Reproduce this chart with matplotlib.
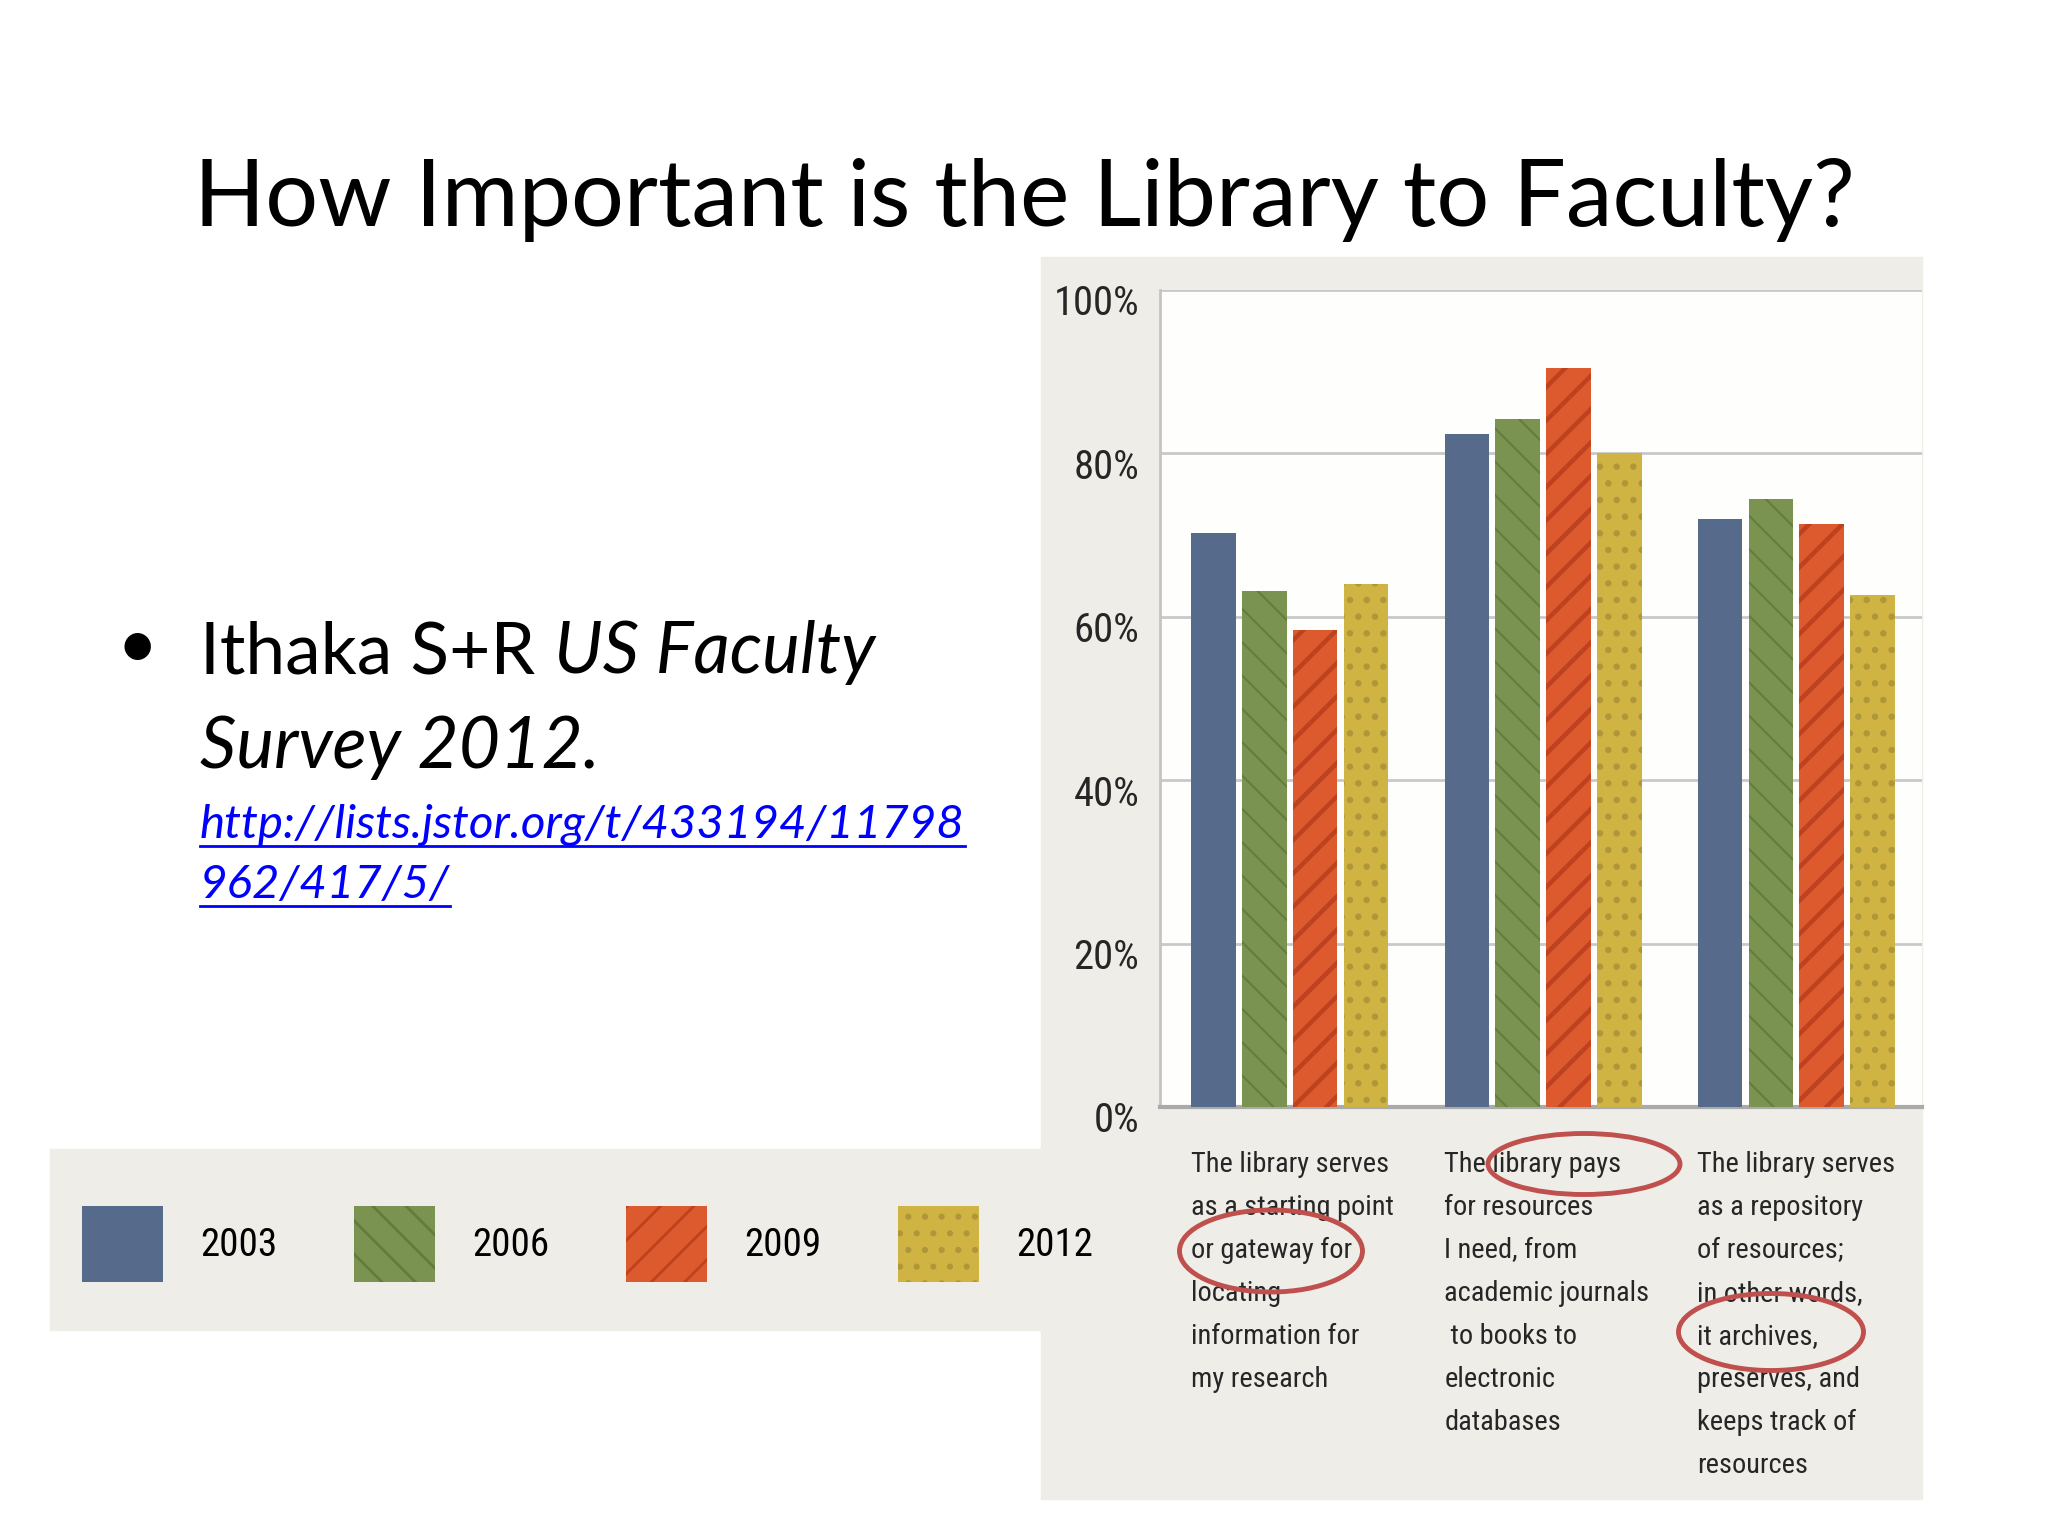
import matplotlib
matplotlib.use('Agg')
import numpy as np
import matplotlib.pyplot as plt
from matplotlib import font_manager
from matplotlib.patches import Rectangle, Ellipse
from matplotlib.lines import Line2D
import matplotlib.transforms as mtransforms

# values
categories = [
    "The library serves\nas a starting point\nor gateway for\nlocating\ninformation for\nmy research",
    "The library pays\nfor resources\nI need, from\nacademic journals\n to books to\nelectronic\ndatabases",
    "The library serves\nas a repository\nof resources;\nin other words,\nit archives,\npreserves, and\nkeeps track of\nresources",
]
years = ['2003', '2006', '2009', '2012']
pct_2003 = [70.2, 82.4, 72.0]
pct_2006 = [63.2, 84.2, 74.4]
pct_2009 = [58.4, 90.4, 71.4]
pct_2012 = [64.0, 80.0, 62.7]
y_ticks = [0, 20, 40, 60, 80, 100]

title = 'How Important is the Library to Faculty?'
source_plain = 'Ithaka S+R'
source_italic = 'US Faculty'
source_line2 = 'Survey 2012.'
url_lines = ['http://lists.jstor.org/t/433194/11798', '962/417/5/']

fills = ['#566A8B', '#7A9350', '#DC5A2E', '#D0B443']
hatch_cols = ['#566A8B', '#617C3C', '#BE421F', '#AE963A']
hatches = ['', '\\', '/', '.']
hatch_lw = [1.0, 1.4, 3.2, 2.2]
panel = '#EEEDE8'
txt = '#262626'

W, H = 2048, 1536
plt.rcParams['hatch.linewidth'] = 2.0
fig = plt.figure(figsize=(W / 100, H / 100), dpi=100)
fig.patch.set_facecolor('white')
renderer = fig.canvas.get_renderer()


def fx(px):
    return px / W


def fy(py):
    return 1 - py / H


def has_font(name):
    try:
        font_manager.findfont(name, fallback_to_default=False)
        return True
    except ValueError:
        return False


SLIDE = 'Lato' if has_font('Lato') else 'DejaVu Sans'
NARROW = 'DejaVu Sans'
for cand in ['Liberation Sans Narrow', 'Roboto Condensed', 'Open Sans Condensed', 'Liberation Sans']:
    if has_font(cand):
        NARROW = cand
        break


def fit(s, target, **kw):
    # font size that makes string s about target pixels wide
    t = fig.text(0, 0, s, fontsize=50, **kw)
    w = t.get_window_extent(renderer).width
    t.remove()
    return 50 * target / w


# grey panels behind chart and legend
fig.add_artist(Rectangle((fx(1041), fy(1499)), (1922 - 1041) / W, (1499 - 257) / H,
                         transform=fig.transFigure, color=panel, zorder=-2))
fig.add_artist(Rectangle((fx(50), fy(1330)), (1041 - 50) / W, (1330 - 1149) / H,
                         transform=fig.transFigure, color=panel, zorder=-2))

# slide title
fs_title = fit(title, 1662, family=SLIDE)
fig.text(fx(1024), fy(226), title, ha='center', va='baseline', fontsize=fs_title,
         family=SLIDE, color='black')

# bullet text
fs_src = fit(source_plain + ' ' + source_italic, 691, family=SLIDE)
fig.text(fx(137), fy(648), '\u2022', ha='center', va='center', fontsize=fs_src, family=SLIDE)
t1 = fig.text(fx(200), fy(673), source_plain, va='baseline', fontsize=fs_src, family=SLIDE)
x1 = t1.get_window_extent(renderer).x1 + 0.26 * fs_src * 100 / 72
fig.text(x1 / W, fy(673), source_italic, va='baseline', fontsize=fs_src, family=SLIDE,
         style='italic')
fig.text(fx(200), fy(768), source_line2, va='baseline', fontsize=fs_src, family=SLIDE,
         style='italic')

fs_url = fit(url_lines[0], 764, family=SLIDE, style='italic')
for line, base in zip(url_lines, [838, 898]):
    t = fig.text(fx(200), fy(base), line, va='baseline', fontsize=fs_url, family=SLIDE,
                 style='italic', color='#0000FF')
    bb = t.get_window_extent(renderer)
    fig.add_artist(Line2D([bb.x0 / W, bb.x1 / W], [fy(base + 8)] * 2, color='#0000FF',
                          lw=2, transform=fig.transFigure))

# bar chart
ax = fig.add_axes([fx(1160), fy(1107), (1922 - 1160) / W, (1107 - 290) / H])
ax.set_facecolor('#FEFEFD')
x = np.arange(len(categories))
step, width = 0.201, 0.175
series = [pct_2003, pct_2006, pct_2009, pct_2012]
for i, vals in enumerate(series):
    bars = ax.bar(x + (i - 1.5) * step, vals, width, color=fills[i], edgecolor=hatch_cols[i],
                  linewidth=0, hatch=hatches[i], label=years[i], zorder=3)
    for b in bars:
        if hasattr(b, 'set_hatch_linewidth'):
            b.set_hatch_linewidth(hatch_lw[i])

ax.set_xlim(-0.513, 2.497)
ax.set_ylim(0, 100)
ax.set_xticks([])
ax.set_yticks(y_ticks)
fs_tick = fit('100%', 86, family=NARROW)
ax.set_yticklabels([f'{v}%' for v in y_ticks], va='top', fontsize=fs_tick,
                   family=NARROW, color=txt)
ax.tick_params(axis='y', length=0, pad=15)
nudge = mtransforms.ScaledTranslation(0, 4 / 72, fig.dpi_scale_trans)
for lbl in ax.get_yticklabels():
    lbl.set_transform(lbl.get_transform() + nudge)
ax.yaxis.grid(True, color='#C9C9C9', linewidth=2)
ax.set_axisbelow(True)
for s in ['top', 'right']:
    ax.spines[s].set_visible(False)
ax.spines['left'].set_color('#C4C4C4')
ax.spines['left'].set_linewidth(2)
ax.spines['bottom'].set_color('#AAAAAA')
ax.spines['bottom'].set_linewidth(3)

fs_cat = fit('The library serves', 198, family=NARROW)
for xi, cat in zip(x, categories):
    ax.text(xi - 0.39, -0.054, cat, transform=ax.get_xaxis_transform(), ha='left',
            va='top', fontsize=fs_cat, family=NARROW, color=txt, linespacing=1.76)

# legend strip
fs_leg = fit('2003', 77, family=NARROW)
em = fs_leg * 100 / 72
handles, labels = ax.get_legend_handles_labels()
fig.legend(handles, labels, loc='center left', bbox_to_anchor=(fx(82), fy(1244)),
           ncol=4, frameon=False, prop={'family': NARROW, 'size': fs_leg},
           handlelength=81 / em, handleheight=(82 + 0.7 * fs_leg) / em,
           handletextpad=37 / em, columnspacing=77 / em, borderpad=0, borderaxespad=0)

# red circles drawn on the slide
for cx, cy, w, h in [(1271, 1251, 183, 82), (1584, 1164, 192, 61), (1771, 1332, 185, 77)]:
    fig.add_artist(Ellipse((fx(cx), fy(cy)), w / W, h / H, transform=fig.transFigure,
                           fill=False, edgecolor='#C0504D', lw=3.5, zorder=10))

fig.savefig('out.png', dpi=100, facecolor='white')
